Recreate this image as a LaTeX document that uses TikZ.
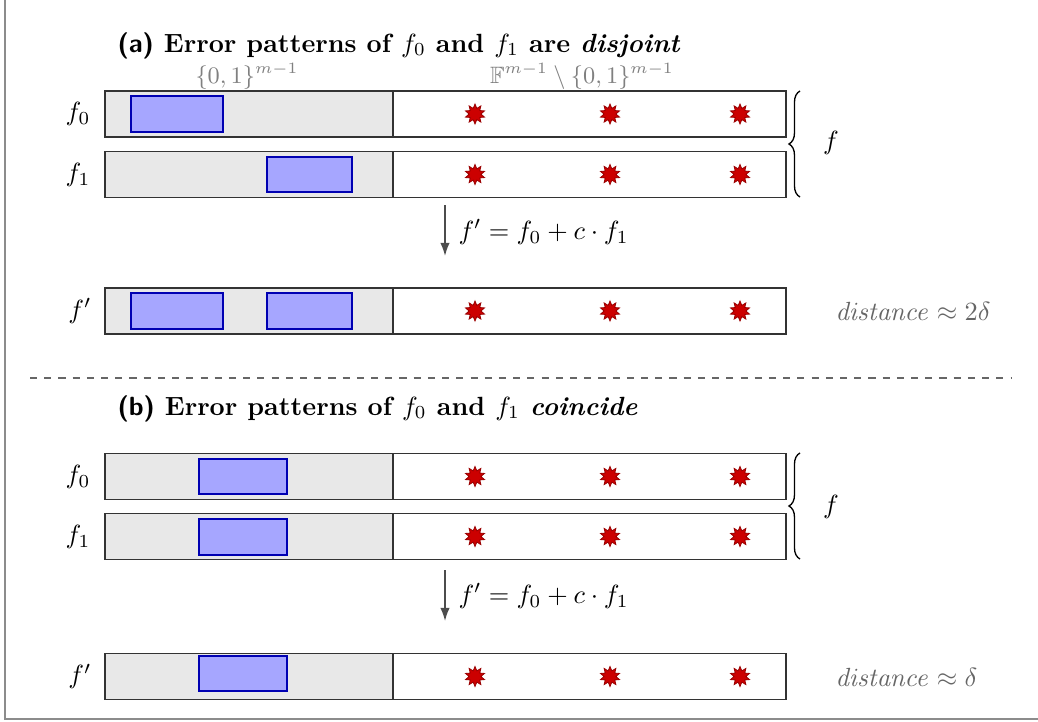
\documentclass[tikz,border=0pt]{standalone}
\usepackage{amssymb}
\usetikzlibrary{shapes.geometric,decorations.pathreplacing,arrows.meta}
\begin{document}
\begin{tikzpicture}[x=0.38pt,y=-0.38pt,
  rowbox/.style={draw=black!80, line width=0.65pt, minimum width=258.78pt, minimum height=17.48pt, inner sep=0pt,
    path picture={\fill[black!9] (path picture bounding box.north west) rectangle ([xshift=109.44pt]path picture bounding box.south west);
      \draw[black!80, line width=0.65pt] ([xshift=109.44pt]path picture bounding box.north west) -- ([xshift=109.44pt]path picture bounding box.south west);}},
  bluebox/.style={fill=blue!35, draw=blue!70!black, line width=0.4pt},
  starmark/.style={star, star points=10, star point ratio=1.7, minimum size=7.6pt, inner sep=0pt, fill=red!80!black, draw=red!60!black, line width=0.3pt},
  rowlabel/.style={inner sep=0pt},
  titletext/.style={anchor=base west, inner sep=0pt},
  graytext/.style={text=black!50, inner sep=0pt, font=\small},
  disttext/.style={text=black!60, anchor=west, inner sep=0pt},
  mapsto/.style={-{Latex[length=5pt,width=3.6pt]}, draw=black!70, line width=0.6pt},
  bracedec/.style={decorate, decoration={brace, amplitude=4.2pt}, line width=0.5pt}
]
\useasboundingbox (0,0) rectangle (1038,721);
% frame
\draw[black!45, line width=0.7pt] (5,0) -- (5,719) -- (1038,719);

% ---------- (a) ----------
\node[titletext] (ta) at (117,52) {\textbf{\textsf{(a)} Error patterns of $f_0$ and $f_1$ are \textit{disjoint}}};
\node[graytext] (ha) at (247,76) {$\{0,1\}^{m-1}$};
\node[graytext] (hb) at (582,76) {$\mathbb{F}^{m-1}\setminus\{0,1\}^{m-1}$};

\node[rowbox] (a0) at (445.5,114) {};
\node[rowbox] (a1) at (445.5,174.5) {};
\node[rowbox] (a2) at (445.5,311) {};

\draw[bluebox] (131,96) rectangle (223,132);
\draw[bluebox] (267,157) rectangle (352,192);
\draw[bluebox] (131,293) rectangle (223,329);
\draw[bluebox] (267,293) rectangle (352,329);

\foreach \yy in {114,174.5,311}{
  \foreach \xx in {475,610,740}{
    \node[starmark] at (\xx,\yy) {};
  }
}

\node[rowlabel] (la0) at (78,114) {$f_0$};
\node[rowlabel] (la1) at (78,174.5) {$f_1$};
\node[rowlabel] (la2) at (80,311) {$f'$};

\coordinate (bra1) at (800,197);
\coordinate (bra2) at (800,91);
\draw[bracedec] (bra1) -- (bra2);
\node[rowlabel] (fa) at (831,143) {$f$};

\coordinate (arA1) at (445,205);
\coordinate (arA2) at (445,256);
\draw[mapsto] (arA1) -- (arA2);
\node[anchor=west, inner sep=0pt] (eqa) at (458,232) {$f' = f_0 + c\cdot f_1$};

\node[disttext] (da) at (835,311) {$\mathit{distance}\approx 2\delta$};

% separator
\coordinate (s1) at (30,378);
\coordinate (s2) at (1012,378);
\draw[dashed, black!60, line width=0.5pt, dash pattern=on 2.7pt off 2.7pt] (s1) -- (s2);

% ---------- (b) ----------
\node[titletext] (tb) at (117,415) {\textbf{\textsf{(b)} Error patterns of $f_0$ and $f_1$ \textit{coincide}}};

\node[rowbox] (b0) at (445.5,476.5) {};
\node[rowbox] (b1) at (445.5,536.5) {};
\node[rowbox] (b2) at (445.5,676.5) {};

\draw[bluebox] (199,459) rectangle (287,494);
\draw[bluebox] (199,519) rectangle (287,555);
\draw[bluebox] (199,656) rectangle (287,691);

\foreach \yy in {476.5,536.5,676.5}{
  \foreach \xx in {475,610,740}{
    \node[starmark] at (\xx,\yy) {};
  }
}

\node[rowlabel] (lb0) at (78,476.5) {$f_0$};
\node[rowlabel] (lb1) at (78,536.5) {$f_1$};
\node[rowlabel] (lb2) at (80,676.5) {$f'$};

\coordinate (brb1) at (800,559);
\coordinate (brb2) at (800,453);
\draw[bracedec] (brb1) -- (brb2);
\node[rowlabel] (fb) at (831,507) {$f$};

\coordinate (arB1) at (445,570);
\coordinate (arB2) at (445,621);
\draw[mapsto] (arB1) -- (arB2);
\node[anchor=west, inner sep=0pt] (eqb) at (458,596) {$f' = f_0 + c\cdot f_1$};

\node[disttext] (db) at (835,677) {$\mathit{distance}\approx \delta$};
\end{tikzpicture}
\end{document}
